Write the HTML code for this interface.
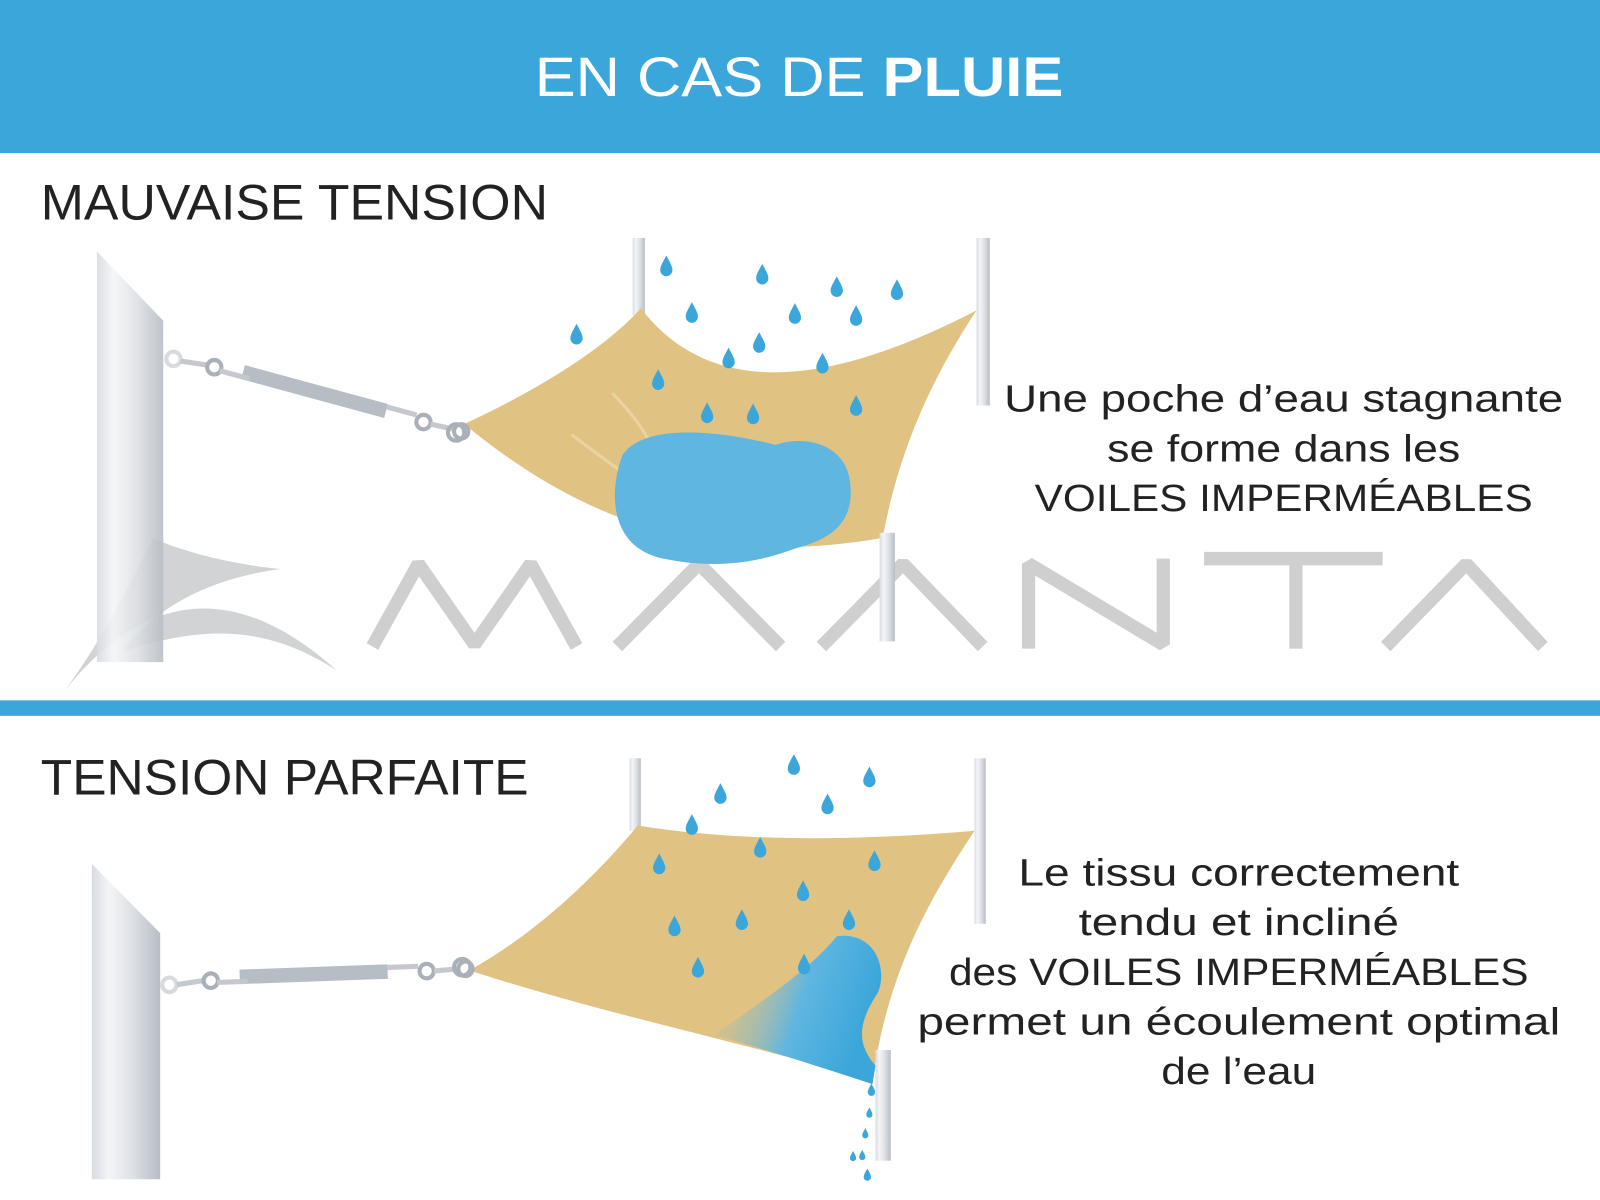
<!DOCTYPE html>
<html><head><meta charset="utf-8"><style>
html,body{margin:0;padding:0;background:#fff;}
svg{display:block;}
text{font-family:"Liberation Sans",sans-serif;}
</style></head><body>
<svg width="1600" height="1200" viewBox="0 0 1568 1160" preserveAspectRatio="none" xmlns="http://www.w3.org/2000/svg">
<defs>
<linearGradient id="pole" x1="0" x2="1">
<stop offset="0" stop-color="#d7dbe0"/><stop offset="0.25" stop-color="#f4f5f7"/><stop offset="0.6" stop-color="#dde0e4"/><stop offset="1" stop-color="#b8bec6"/>
</linearGradient>
<linearGradient id="flow" x1="0" y1="0" x2="1" y2="0.3">
<stop offset="0" stop-color="#e0c283" stop-opacity="0"/><stop offset="0.6" stop-color="#5fb6e0"/><stop offset="1" stop-color="#3ba6da"/>
</linearGradient>
<path id="d" d="M0,-11 C3,-5 6,-1 6,3 A6,6 0 0 1 -6,3 C-6,-1 -3,-5 0,-11Z" fill="#3ba6da"/>
<g id="chain">
<circle cx="0" cy="0" r="7" fill="none" stroke="#d8dadd" stroke-width="4"/>
<line x1="7" y1="2" x2="34" y2="6" stroke="#c5c9ce" stroke-width="5"/>
<circle cx="40" cy="8" r="7" fill="none" stroke="#a9b0b8" stroke-width="4"/>
<rect x="70" y="6" width="145" height="14" fill="#b7bdc4" transform="rotate(15 70 6)"/>
<rect x="46" y="9" width="30" height="5" fill="#c5c9ce" transform="rotate(15 46 9)"/>
<rect x="210" y="44" width="30" height="5" fill="#c5c9ce" transform="rotate(15 210 44)"/>
<circle cx="245" cy="61" r="7" fill="none" stroke="#a9b0b8" stroke-width="4"/>
<line x1="252" y1="63" x2="275" y2="68" stroke="#c5c9ce" stroke-width="5"/>
<circle cx="282" cy="70" r="7" fill="none" stroke="#a9b0b8" stroke-width="4"/>
</g>
</defs>
<rect width="1568" height="1160" fill="#fff"/>
<rect x="0" y="0" width="1568" height="148" fill="#3ba6da"/>
<text x="783" y="93" text-anchor="middle" font-size="54" fill="#fff" textLength="518" lengthAdjust="spacingAndGlyphs">EN CAS DE <tspan font-weight="bold">PLUIE</tspan></text>
<rect x="0" y="677" width="1568" height="15" fill="#3ba6da"/>

<!-- TOP -->
<text x="40" y="212" font-size="48" fill="#222" textLength="497" lengthAdjust="spacingAndGlyphs">MAUVAISE TENSION</text>
<g fill="none" stroke="#cfcfcf" stroke-width="13" stroke-linejoin="bevel">
<polyline points="365,625 410,545 465,623 520,545 565,625"/>
<polyline points="605,625 685,545 765,625"/>
<polyline points="805,625 885,545 963,625"/>
<polyline points="1008,627 1008,545 1140,623 1140,540"/>
<polyline points="1180,540 1355,540"/><line x1="1270" y1="540" x2="1270" y2="627"/>
<polyline points="1358,625 1437,545 1512,625"/>
</g>
<path d="M60,672 C140,570 230,560 330,648 C270,610 210,600 120,630 C150,590 200,560 275,550 C220,545 170,530 150,520 C130,560 100,620 60,672Z" fill="#c9cbcd" opacity="0.85"/>
<path d="M95,243 L160,310 L160,640 L95,640Z" fill="url(#pole)" opacity="0.9"/>
<rect x="620" y="230" width="12" height="75" fill="url(#pole)"/>
<rect x="957" y="230" width="13" height="162" fill="url(#pole)"/>
<path d="M455,410 C520,380 590,340 628,298 C700,390 820,370 957,300 C910,370 880,440 865,520 C720,545 590,520 455,410Z" fill="#e0c283"/>
<path d="M560,420 C600,450 630,470 640,480 M600,380 C630,410 640,430 650,460" stroke="#ead3a0" stroke-width="3" fill="none"/>
<path d="M610,440 C630,410 700,415 760,430 C790,420 825,430 832,460 C840,500 820,520 780,530 C740,545 700,550 650,540 C600,530 595,480 610,440Z" fill="#5fb6e0"/>
<rect x="862" y="515" width="15" height="105" fill="url(#pole)"/>
<use href="#chain" transform="translate(170,347)"/>
<circle cx="447" cy="418" r="8" fill="none" stroke="#a9b0b8" stroke-width="4"/>
<g>
<use href="#d" x="653" y="258"/><use href="#d" x="747" y="266"/><use href="#d" x="820" y="278"/><use href="#d" x="879" y="281"/>
<use href="#d" x="565" y="324"/><use href="#d" x="678" y="303"/><use href="#d" x="779" y="304"/><use href="#d" x="839" y="306"/>
<use href="#d" x="744" y="332"/><use href="#d" x="714" y="347"/><use href="#d" x="806" y="352"/><use href="#d" x="645" y="368"/>
<use href="#d" x="693" y="400"/><use href="#d" x="738" y="401"/><use href="#d" x="839" y="393"/>
</g>
<g font-size="37" fill="#222" text-anchor="middle">
<text x="1258" y="398" textLength="548" lengthAdjust="spacingAndGlyphs">Une poche d’eau stagnante</text>
<text x="1258" y="446" textLength="346" lengthAdjust="spacingAndGlyphs">se forme dans les</text>
<text x="1258" y="494" textLength="488" lengthAdjust="spacingAndGlyphs">VOILES IMPERMÉABLES</text>
</g>

<!-- BOTTOM -->
<text x="40" y="768" font-size="48" fill="#222" textLength="478" lengthAdjust="spacingAndGlyphs">TENSION PARFAITE</text>
<path d="M90,835 L157,902 L157,1140 L90,1140Z" fill="url(#pole)"/>
<rect x="617" y="733" width="11" height="70" fill="url(#pole)"/>
<rect x="955" y="733" width="11" height="160" fill="url(#pole)"/>
<path d="M460,938 C530,900 590,840 625,798 C730,815 850,812 955,803 C910,870 870,940 855,1045 C720,1005 590,980 460,938Z" fill="#e0c283"/>
<path d="M700,1000 C760,960 800,930 820,905 C860,900 870,940 860,960 C840,990 840,1010 858,1030 L855,1048 C800,1030 750,1015 700,1000Z" fill="url(#flow)"/>
<rect x="858" y="1015" width="15" height="107" fill="url(#pole)"/>
<use href="#chain" transform="translate(166,952) rotate(-17)"/>
<circle cx="453" cy="935" r="8" fill="none" stroke="#a9b0b8" stroke-width="4"/>
<g>
<use href="#d" x="778" y="740"/><use href="#d" x="852" y="752"/><use href="#d" x="706" y="768"/><use href="#d" x="811" y="778"/>
<use href="#d" x="678" y="798"/><use href="#d" x="745" y="820"/><use href="#d" x="857" y="833"/><use href="#d" x="646" y="836"/>
<use href="#d" x="787" y="862"/><use href="#d" x="661" y="896"/><use href="#d" x="727" y="890"/><use href="#d" x="832" y="890"/>
<use href="#d" x="684" y="936"/><use href="#d" x="788" y="933"/>
<use href="#d" transform="translate(854,1054) scale(0.6)"/><use href="#d" transform="translate(852,1076) scale(0.5)"/>
<use href="#d" transform="translate(848,1096) scale(0.5)"/><use href="#d" transform="translate(845,1117) scale(0.5)"/>
<use href="#d" transform="translate(836,1118) scale(0.5)"/><use href="#d" transform="translate(850,1136) scale(0.6)"/>
</g>
<g font-size="37" fill="#222" text-anchor="middle">
<text x="1214" y="856" textLength="432" lengthAdjust="spacingAndGlyphs">Le tissu correctement</text>
<text x="1214" y="904" textLength="314" lengthAdjust="spacingAndGlyphs">tendu et incliné</text>
<text x="1214" y="952" textLength="568" lengthAdjust="spacingAndGlyphs">des VOILES IMPERMÉABLES</text>
<text x="1214" y="1000" textLength="630" lengthAdjust="spacingAndGlyphs">permet un écoulement optimal</text>
<text x="1214" y="1048" textLength="152" lengthAdjust="spacingAndGlyphs">de l’eau</text>
</g>
</svg>
</body></html>
